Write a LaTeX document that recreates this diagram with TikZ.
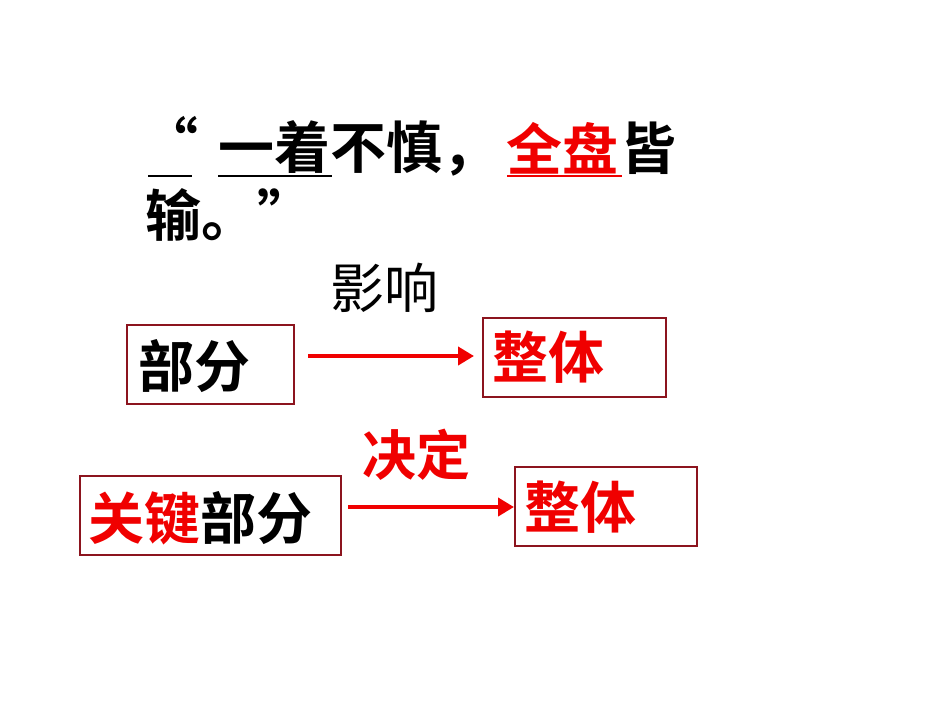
\documentclass[tikz,border=0pt]{standalone}
\usepackage{fontspec}
\newfontfamily\cjk{Noto Sans CJK SC}
\newfontfamily\cjkb{Noto Sans CJK SC Bold}
\usetikzlibrary{arrows.meta}
\definecolor{boxred}{RGB}{140,20,30}
\definecolor{tred}{RGB}{240,0,0}
\tikzset{
  x=1pt,y=-1pt,
  box/.style={draw=boxred,line width=1.6pt,minimum height=79pt,inner sep=0pt},
  big/.style={font=\cjkb\fontsize{56}{60}\selectfont,inner sep=0pt,anchor=west},
  arr/.style={draw=tred,line width=4pt,-{Triangle[length=16pt,width=18pt]}},
  lbl/.style={font=\cjk\fontsize{54}{58}\selectfont,inner sep=0pt}
}
\begin{document}
\begin{tikzpicture}
\useasboundingbox[fill=white] (0,0) rectangle (950,713);
\node[big] (q1) at (142,140) {“};
\node[big] (l1) at (218,148) {一着不慎，};
\node[big,text=tred] (l1r) at (506,148) {全盘};
\node[big] (l1e) at (620,148) {皆};
\node[big] (l2) at (145,215) {输。”};
\draw[line width=1.5pt] (148,176) -- (192,176);
\draw[line width=1.5pt] (218,176) -- (332,176);
\draw[tred,line width=1.5pt] (507,176) -- (622,176);
\node[box,minimum width=167pt,anchor=north west] (b1) at (126,324) {};
\node[big] (t1) at (138,366) {部分};
\node[box,minimum width=183pt,anchor=north west] (b2) at (482,317) {};
\node[big,text=tred] (t2) at (492,357) {整体};
\node[box,minimum width=261pt,anchor=north west] (b3) at (79,475) {};
\node[big] (t3) at (88,518) {\textcolor{tred}{关键}部分};
\node[box,minimum width=182pt,anchor=north west] (b4) at (514,466) {};
\node[big,text=tred] (t4) at (524,507) {整体};
\coordinate (a1s) at (308,356); \coordinate (a1e) at (474,356);
\coordinate (a2s) at (348,507); \coordinate (a2e) at (514,507);
\draw[arr] (a1s) -- (a1e);
\draw[arr] (a2s) -- (a2e);
\node[lbl] (w1) at (384,288) {影响};
\node[lbl,font=\cjkb\fontsize{54}{58}\selectfont,text=tred] (w2) at (416,455) {决定};
\end{tikzpicture}
\end{document}
